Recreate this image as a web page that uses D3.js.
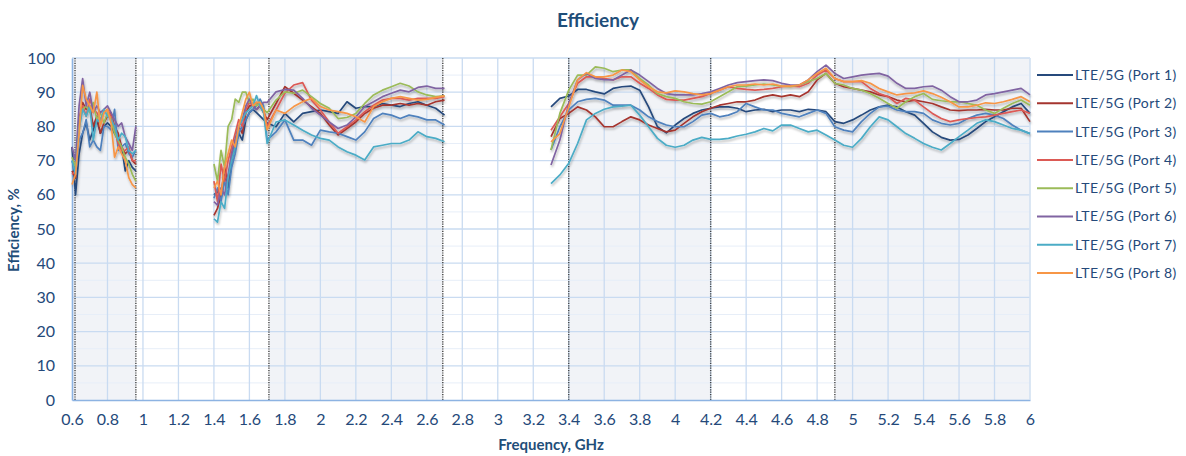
<!DOCTYPE html>
<html>
<head>
<meta charset="utf-8">
<script src="https://cdn.jsdelivr.net/npm/d3@7"></script>
<style>
  body { margin: 0; background: #fff; }
  svg { display: block; font-family: Lato, "Open Sans", sans-serif; }
</style>
</head>
<body>
<svg id="chart" width="1186" height="456"></svg>
<script>
// frequencies (GHz) of the three measured bands
const freqA = [0.60, 0.62, 0.64, 0.66, 0.68, 0.70, 0.72, 0.74, 0.76, 0.78, 0.80, 0.82, 0.84, 0.86, 0.88, 0.90, 0.92, 0.94, 0.96];
const freqB = [1.40, 1.42, 1.44, 1.46, 1.48, 1.50, 1.52, 1.54, 1.56, 1.58, 1.60, 1.62, 1.64, 1.66, 1.68, 1.70,
  1.75, 1.80, 1.85, 1.90, 1.95, 2.00, 2.05, 2.10, 2.15, 2.20, 2.25, 2.30, 2.35, 2.40, 2.45, 2.50, 2.55, 2.60, 2.65, 2.70];
const freqC = [3.30, 3.35, 3.40, 3.45, 3.50, 3.55, 3.60, 3.65, 3.70, 3.75, 3.80, 3.85, 3.90, 3.95, 4.00, 4.05, 4.10, 4.15, 4.20,
  4.25, 4.30, 4.35, 4.40, 4.45, 4.50, 4.55, 4.60, 4.65, 4.70, 4.75, 4.80, 4.85, 4.90, 4.95, 5.00, 5.05, 5.10, 5.15, 5.20,
  5.25, 5.30, 5.35, 5.40, 5.45, 5.50, 5.55, 5.60, 5.65, 5.70, 5.75, 5.80, 5.85, 5.90, 5.95, 6.00];

// efficiency, % : [band A, band B, band C]
const port1 = [
  [74, 60, 72, 78, 81, 76, 79, 82, 78, 80, 81, 80, 78, 76, 74, 67, 70, 68, 67],
  [60, 61, 59, 66, 62, 70, 74, 78, 76, 82, 84, 85, 84, 83, 82, 81,
   79.9, 83.8, 81.3, 83.8, 84.3, 84.8, 84.3, 83.8, 87.2, 85.3, 85.8, 85.8, 86.7, 86.2, 85.8, 86.7, 87.2, 86.2, 85.3, 83.3],
  [85.7, 88.2, 88.9, 90.8, 90.8, 90.1, 89.5, 91.1, 91.6, 91.8, 90.6, 85.7, 79.9, 78.1, 80.4, 82.3, 83.8, 84.8, 85.3,
   85.7, 85.7, 85.3, 84.3, 84.8, 85.0, 84.3, 84.8, 84.8, 84.3, 85.0, 84.8, 84.3, 81.4, 80.9, 81.9, 83.3, 84.8, 85.7, 86.2,
   85.7, 84.3, 83.3, 80.9, 78.4, 76.8, 76.0, 76.2, 77.5, 79.4, 81.4, 82.8, 84.3, 85.7, 86.7, 83.8]
];
const port2 = [
  [67, 65, 82, 87, 85, 86, 80, 83, 78, 81, 83, 84, 80, 78, 74, 72, 73, 70, 69],
  [54, 56, 60, 68, 64, 72, 76, 80, 78, 84, 86, 86, 85, 86, 84, 82,
   86.7, 91.6, 89.7, 87.7, 85.8, 83.8, 80.4, 77.5, 79.4, 81.3, 83.8, 85.3, 86.2, 86.2, 86.7, 86.2, 86.7, 86.2, 87.2, 87.7],
  [77.0, 82.3, 83.8, 85.7, 84.8, 82.8, 79.9, 79.9, 81.4, 82.8, 81.9, 80.4, 79.4, 78.4, 78.9, 80.9, 82.8, 84.3, 85.3,
   86.2, 86.7, 87.2, 87.2, 87.7, 88.7, 89.2, 88.7, 89.2, 88.7, 90.1, 93.6, 95.5, 92.6, 91.6, 91.1, 90.6, 90.1, 89.2, 88.7,
   87.7, 87.2, 87.7, 87.2, 86.7, 85.7, 84.8, 84.6, 84.8, 84.8, 85.0, 84.8, 84.8, 85.3, 85.3, 81.4]
];
const port3 = [
  [70, 66, 76, 78, 82, 74, 76, 74, 73, 80, 80, 79, 85, 73, 74, 75, 72, 71, 73],
  [59, 62, 58, 64, 60, 68, 72, 78, 80, 82, 84, 85, 86, 88, 86, 76,
   78.4, 81.9, 76.0, 76.0, 74.5, 78.9, 78.4, 78.0, 77.0, 76.0, 78.4, 82.3, 83.8, 83.3, 82.3, 83.3, 82.8, 81.9, 81.9, 80.4],
  [73.1, 79.9, 84.8, 87.2, 87.9, 88.2, 87.7, 86.2, 86.2, 86.2, 84.8, 82.8, 81.4, 80.4, 79.9, 79.9, 81.4, 83.3, 83.8,
   82.8, 83.3, 84.3, 86.7, 85.7, 84.8, 84.8, 83.8, 83.3, 82.8, 83.8, 84.8, 83.8, 79.9, 78.9, 78.4, 81.4, 83.8, 85.7, 85.9,
   84.8, 84.3, 84.3, 83.8, 81.9, 80.9, 80.4, 80.9, 82.3, 83.3, 83.8, 83.3, 82.3, 80.4, 78.9, 77.9]
];
const port4 = [
  [66, 67, 80, 86, 83, 88, 85, 84, 82, 84, 85, 83, 79, 75, 73, 73, 74, 70, 70],
  [64, 58, 69, 64, 70, 74, 78, 82, 80, 85, 87, 86, 87, 86, 85, 80,
   84.8, 89.7, 92.1, 92.8, 87.7, 84.8, 81.3, 78.0, 79.9, 81.9, 84.3, 86.2, 87.7, 88.2, 88.2, 87.7, 88.2, 88.2, 88.2, 88.7],
  [78.9, 82.8, 86.7, 92.6, 94.5, 94.5, 94.0, 93.6, 94.5, 94.5, 92.6, 91.1, 89.2, 87.9, 87.7, 87.7, 88.2, 88.7, 89.6,
   90.6, 91.6, 91.1, 90.8, 90.6, 90.8, 91.1, 91.6, 91.8, 91.6, 92.6, 95.0, 96.5, 94.0, 93.1, 93.1, 93.1, 91.1, 89.6, 88.7,
   86.7, 88.2, 87.7, 85.7, 83.8, 82.3, 81.4, 81.9, 82.3, 82.6, 82.8, 83.3, 83.8, 84.3, 84.8, 83.8]
];
const port5 = [
  [71, 68, 82, 85, 86, 84, 87, 82, 84, 81, 84, 82, 78, 76, 74, 71, 69, 66, 64],
  [69, 64, 73, 68, 80, 82, 88, 87, 90, 90, 87, 88, 86, 87, 85, 84,
   87.7, 90.1, 89.7, 90.6, 88.7, 86.7, 85.3, 82.3, 82.6, 83.8, 86.7, 89.2, 90.6, 91.6, 92.6, 91.8, 90.1, 89.2, 88.7, 88.9],
  [73.1, 83.8, 90.6, 95.0, 95.0, 97.4, 97.0, 96.0, 96.5, 96.5, 94.0, 92.1, 89.6, 88.7, 88.2, 87.2, 86.7, 86.5, 87.2,
   88.7, 90.1, 91.6, 91.8, 92.1, 92.4, 92.1, 91.8, 91.6, 92.1, 93.1, 94.0, 95.5, 92.6, 92.1, 91.1, 90.6, 89.6, 88.2, 86.7,
   85.3, 87.2, 88.7, 89.6, 87.9, 87.5, 87.2, 87.2, 86.7, 86.2, 84.8, 83.8, 85.3, 86.7, 87.7, 86.2]
];
const port6 = [
  [74, 70, 86, 94, 86, 90, 84, 86, 84, 85, 86, 84, 82, 80, 81, 77, 75, 73, 80],
  [58, 57, 62, 60, 66, 72, 76, 80, 82, 86, 88, 86, 85, 86, 87, 87,
   90.1, 90.8, 90.6, 88.2, 85.3, 83.3, 81.3, 79.4, 80.4, 82.8, 85.8, 87.2, 88.7, 89.7, 90.6, 90.1, 91.4, 91.8, 91.1, 91.1],
  [68.7, 76.0, 86.7, 93.6, 95.5, 94.0, 93.7, 93.6, 95.0, 96.5, 95.0, 93.1, 91.1, 89.6, 89.2, 89.2, 89.2, 89.6, 90.1,
   91.1, 92.1, 92.8, 93.1, 93.4, 93.6, 93.4, 92.6, 92.1, 92.1, 93.6, 96.0, 97.9, 95.5, 94.0, 94.5, 95.0, 95.3, 95.5, 94.7,
   92.6, 91.1, 91.1, 91.6, 91.8, 90.6, 88.7, 87.2, 87.2, 87.7, 89.2, 89.6, 90.1, 90.6, 91.1, 89.2]
];
const port7 = [
  [70, 66, 79, 85, 83, 86, 76, 82, 81, 85, 83, 82, 80, 76, 78, 77, 73, 72, 73],
  [53, 52, 58, 56, 65, 70, 74, 80, 82, 84, 85, 86, 89, 86, 84, 75,
   81.3, 81.9, 80.4, 78.9, 77.5, 76.5, 76.0, 74.0, 72.6, 71.6, 70.2, 74.0, 74.5, 75.0, 75.0, 76.0, 78.4, 77.0, 76.5, 75.5],
  [63.3, 65.8, 69.2, 75.0, 81.9, 83.8, 85.0, 85.7, 85.9, 86.2, 83.3, 79.9, 76.5, 74.5, 73.9, 74.5, 76.0, 76.8, 76.2,
   76.2, 76.5, 77.2, 77.7, 78.4, 79.4, 78.7, 80.4, 80.4, 79.4, 78.4, 78.9, 77.5, 76.0, 74.5, 73.9, 76.5, 79.9, 82.8, 81.9,
   79.9, 77.9, 76.5, 75.0, 73.9, 73.1, 75.0, 77.0, 78.9, 80.9, 81.9, 81.4, 80.4, 79.4, 78.9, 77.9]
];
const port8 = [
  [63, 66, 78, 92, 88, 86, 84, 90, 80, 84, 85, 81, 71, 74, 72, 70, 65, 63, 62],
  [62, 64, 60, 68, 72, 76, 74, 80, 84, 88, 90, 86, 87, 87, 85, 79,
   84.8, 83.8, 85.8, 87.2, 88.2, 85.8, 84.8, 84.3, 83.8, 82.8, 81.3, 85.8, 87.2, 88.2, 88.7, 88.2, 87.7, 87.9, 88.5, 88.9],
  [75.5, 77.9, 85.7, 93.6, 95.7, 94.5, 94.5, 95.0, 96.5, 96.0, 93.6, 91.6, 90.1, 89.8, 90.4, 90.1, 89.6, 89.2, 89.6,
   90.6, 91.6, 92.1, 92.1, 92.4, 92.1, 92.4, 91.8, 91.8, 92.1, 93.6, 95.5, 97.0, 94.0, 93.1, 93.1, 93.4, 92.6, 91.1, 90.1,
   89.2, 89.6, 89.8, 90.4, 89.6, 88.5, 87.2, 85.7, 85.7, 86.2, 86.9, 86.7, 87.2, 87.9, 88.7, 87.2]
];

const seriesNames = ["LTE/5G (Port 1)", "LTE/5G (Port 2)", "LTE/5G (Port 3)", "LTE/5G (Port 4)",
  "LTE/5G (Port 5)", "LTE/5G (Port 6)", "LTE/5G (Port 7)", "LTE/5G (Port 8)"];
const seriesColors = ["#264a7c", "#a5352f", "#4f81bd", "#dc5a55", "#9bbb59", "#8064a2", "#4bacc6", "#f79646"];
const ports = [port1, port2, port3, port4, port5, port6, port7, port8];

// shaded frequency ranges and dotted band edges
const shadedBands = [[0.6, 0.96], [1.71, 2.69], [3.4, 4.2], [4.9, 6.0]];
const bandEdges = [0.617, 0.96, 1.71, 2.69, 3.4, 4.2, 4.9];

const xTicks = [0.6, 0.8, 1, 1.2, 1.4, 1.6, 1.8, 2, 2.2, 2.4, 2.6, 2.8, 3, 3.2, 3.4, 3.6, 3.8, 4, 4.2, 4.4, 4.6, 4.8, 5, 5.2, 5.4, 5.6, 5.8, 6];
const yTicks = [0, 10, 20, 30, 40, 50, 60, 70, 80, 90, 100];
const yMinor = [5, 15, 25, 35, 45, 55, 65, 75, 85, 95];

const textColor = "#24497a";
const gridColor = "#c9dbf1";

const svg = d3.select("#chart");
const x = d3.scaleLinear().domain([0.6, 6]).range([72, 1030]);
const y = d3.scaleLinear().domain([0, 100]).range([400, 58]);

const defs = svg.append("defs");
defs.append("filter")
  .attr("id", "shadow")
  .attr("x", "-5%").attr("y", "-5%").attr("width", "110%").attr("height", "120%")
  .append("feDropShadow")
  .attr("dx", 0.8).attr("dy", 2).attr("stdDeviation", 1.1)
  .attr("flood-color", "#000").attr("flood-opacity", 0.28);

// shaded bands
svg.append("g")
  .selectAll("rect")
  .data(shadedBands)
  .join("rect")
  .attr("x", (d) => x(d[0]))
  .attr("y", y(100))
  .attr("width", (d) => x(d[1]) - x(d[0]))
  .attr("height", y(0) - y(100))
  .attr("fill", "#f1f3f7");

// grid
const grid = svg.append("g");
grid.selectAll("line.minor")
  .data(yMinor)
  .join("line")
  .attr("class", "minor")
  .attr("x1", x(0.6)).attr("x2", x(6))
  .attr("y1", (d) => y(d)).attr("y2", (d) => y(d))
  .attr("stroke", "#e7eef8").attr("stroke-width", 1);
grid.selectAll("line.hy")
  .data(yTicks.slice(1))
  .join("line")
  .attr("class", "hy")
  .attr("x1", x(0.6)).attr("x2", x(6))
  .attr("y1", (d) => y(d)).attr("y2", (d) => y(d))
  .attr("stroke", gridColor).attr("stroke-width", 1.3);
grid.selectAll("line.vx")
  .data(xTicks.slice(1))
  .join("line")
  .attr("class", "vx")
  .attr("x1", (d) => x(d)).attr("x2", (d) => x(d))
  .attr("y1", y(0)).attr("y2", y(100))
  .attr("stroke", gridColor).attr("stroke-width", 1.3);

// dotted band edges
svg.append("g")
  .selectAll("line")
  .data(bandEdges)
  .join("line")
  .attr("x1", (d) => x(d)).attr("x2", (d) => x(d))
  .attr("y1", y(0)).attr("y2", y(100))
  .attr("stroke", "#444")
  .attr("stroke-width", 1.4)
  .attr("stroke-dasharray", "1.2,1.2");

// axes
const xAxis = svg.append("g")
  .attr("transform", `translate(0,${y(0)})`)
  .call(d3.axisBottom(x).tickValues(xTicks).tickSize(0).tickPadding(14).tickFormat((d) => String(+d.toFixed(1))));
const yAxis = svg.append("g")
  .attr("transform", `translate(${x(0.6)},0)`)
  .call(d3.axisLeft(y).tickValues(yTicks).tickSize(0).tickPadding(17));
[xAxis, yAxis].forEach((a) => {
  a.select(".domain").attr("stroke", "#8db3e2").attr("stroke-width", 1.6);
  a.selectAll("text").attr("fill", textColor).attr("font-size", 16).attr("font-family", "Lato, sans-serif");
});
svg.append("line")
  .attr("x1", x(6)).attr("x2", x(6))
  .attr("y1", y(0)).attr("y2", y(100))
  .attr("stroke", "#dbe6f4").attr("stroke-width", 1.2);

// series lines
const line = d3.line()
  .x((d) => x(d[0]))
  .y((d) => y(d[1]));
const bandFreqs = [freqA, freqB, freqC];

const lines = svg.append("g").attr("fill", "none").attr("filter", "url(#shadow)");
ports.forEach((port, i) => {
  lines.append("g")
    .selectAll("path")
    .data(port.map((vals, b) => bandFreqs[b].map((f, k) => [f, vals[k]])))
    .join("path")
    .attr("d", line)
    .attr("stroke", seriesColors[i])
    .attr("stroke-width", 1.7)
    .attr("stroke-linejoin", "round");
});

// titles
svg.append("text")
  .attr("x", 598).attr("y", 27)
  .attr("text-anchor", "middle")
  .attr("font-size", 19).attr("font-weight", "bold")
  .attr("fill", "#1f4e79")
  .text("Efficiency");
svg.append("text")
  .attr("x", 551).attr("y", 450)
  .attr("text-anchor", "middle")
  .attr("font-size", 15).attr("font-weight", "bold")
  .attr("fill", "#1f4e79")
  .text("Frequency, GHz");
svg.append("text")
  .attr("transform", "translate(19,230) rotate(-90)")
  .attr("text-anchor", "middle")
  .attr("font-size", 15).attr("font-weight", "bold")
  .attr("fill", "#1f4e79")
  .text("Efficiency, %");

// legend
const legend = svg.append("g")
  .selectAll("g")
  .data(seriesNames)
  .join("g")
  .attr("transform", (d, i) => `translate(1037,${75 + i * 28.3})`);
legend.append("line")
  .attr("x1", 0).attr("x2", 36)
  .attr("stroke", (d, i) => seriesColors[i])
  .attr("stroke-width", 2);
legend.append("text")
  .attr("x", 38).attr("dy", "0.35em")
  .attr("font-size", 14)
  .attr("letter-spacing", 0.4)
  .attr("fill", textColor)
  .text((d) => d);
</script>
</body>
</html>
